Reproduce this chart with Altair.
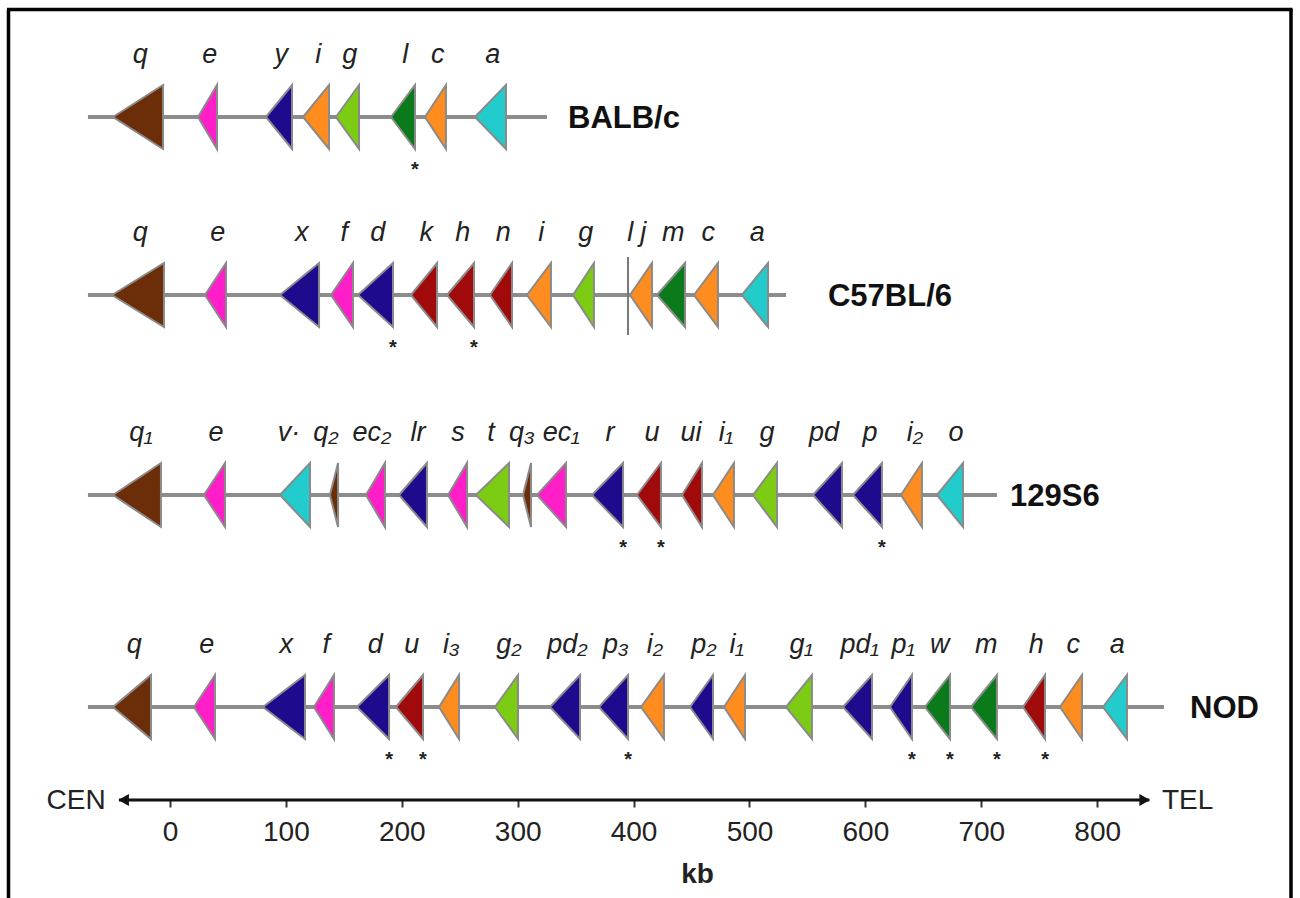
import altair as alt
import pandas as pd

# ---------------- data (kb positions) ----------------
strains = ["BALB/c", "C57BL/6", "129S6", "NOD"]

balb_genes = ["q", "e", "y", "i", "g", "l", "c", "a"]
balb_family = ["brown", "pink", "navy", "orange", "lime", "green", "orange", "cyan"]
balb_tip = [-49.2, 24.2, 82.8, 114.8, 143.2, 190.7, 220.0, 263.2]
balb_edge = [-6.0, 40.6, 105.3, 137.2, 163.1, 211.4, 238.1, 289.9]
balb_star = ["l"]

b6_genes = ["q", "e", "x", "f", "d", "k", "h", "n", "i", "g", "l", "j", "m", "c", "a"]
b6_family = ["brown", "pink", "navy", "pink", "navy", "red", "red", "red", "orange",
             "lime", "line", "orange", "green", "orange", "cyan"]
b6_tip = [-50.0, 30.2, 94.9, 138.9, 162.2, 207.9, 239.0, 276.1, 308.0, 347.7, 395.2,
          396.9, 420.2, 452.1, 493.5]
b6_edge = [-5.2, 48.3, 128.6, 157.9, 192.4, 230.4, 262.3, 295.1, 328.7, 365.8, 395.2,
           415.9, 444.4, 472.8, 516.0]
b6_star = ["d", "h"]

s129_genes = ["q₁", "e", "v·", "q₂", "ec₂", "lr", "s", "t", "q₃", "ec₁", "r", "u", "ui",
              "i₁", "g", "pd", "p", "i₂", "o"]
s129_family = ["brown", "pink", "cyan", "brown", "pink", "navy", "pink", "lime", "brown",
               "pink", "navy", "red", "red", "orange", "lime", "navy", "navy", "orange", "cyan"]
s129_tip = [-49.2, 29.3, 94.9, 138.0, 169.1, 197.6, 239.9, 264.0, 304.6, 316.7, 364.1,
            402.9, 441.8, 468.5, 503.0, 554.8, 589.3, 630.7, 661.8]
s129_edge = [-7.8, 47.5, 120.8, 145.0, 185.5, 221.7, 256.3, 292.5, 311.5, 341.7, 390.9,
             423.6, 459.0, 486.6, 523.7, 579.8, 614.3, 648.8, 684.2]
# label centres (kb) for the crowded 129S6 row
s129_label = [-25.0, 39.7, 102.7, 134.6, 174.3, 214.0, 248.5, 277.0, 303.5, 337.5, 379.6,
              415.9, 449.5, 479.7, 515.1, 564.3, 604.0, 642.8, 678.2]
s129_star = ["r", "u", "p"]

nod_genes = ["q", "e", "x", "f", "d", "u", "i₃", "g₂", "pd₂", "p₃", "i₂", "p₂", "i₁", "g₁",
             "pd₁", "p₁", "w", "m", "h", "c", "a"]
nod_family = ["brown", "pink", "navy", "pink", "navy", "red", "orange", "lime", "navy", "navy",
              "orange", "navy", "orange", "lime", "navy", "navy", "green", "green", "red",
              "orange", "cyan"]
nod_tip = [-49.2, 20.7, 80.2, 124.2, 161.3, 195.0, 232.1, 280.4, 327.9, 370.1, 406.4, 448.7,
           478.0, 531.5, 580.7, 621.2, 651.4, 691.1, 736.0, 767.9, 805.0]
nod_edge = [-16.4, 38.8, 116.5, 141.5, 189.0, 218.3, 249.4, 300.3, 353.8, 395.2, 426.2, 468.5,
            496.1, 553.9, 605.7, 640.2, 673.0, 713.5, 755.0, 786.9, 825.7]
nod_star = ["d", "u", "p₃", "p₁", "w", "m", "h"]

backbone_start = [-70.8, -70.8, -70.8, -70.8]
backbone_end = [325.3, 531.5, 713.5, 857.6]

tick_values = [0, 100, 200, 300, 400, 500, 600, 700, 800]

family_names = ["brown", "pink", "navy", "orange", "lime", "green", "cyan", "red"]
family_colors = ["#6b2e08", "#ff1ec8", "#1e0a8c", "#ff8c1e", "#7dcc14", "#0b7a1b", "#22cccc", "#a00a0a"]

# ---------------- layout (pixels / styles) ----------------
row_y = {"BALB/c": 117, "C57BL/6": 295, "129S6": 495, "NOD": 707}
strain_label_x = {"BALB/c": 343.4, "C57BL/6": 567.7, "129S6": 724.8, "NOD": 880.1}
HALF_H = 32
FONT = "Liberation Sans"

rows = [
    ("BALB/c", balb_genes, balb_family, balb_tip, balb_edge, balb_star, None),
    ("C57BL/6", b6_genes, b6_family, b6_tip, b6_edge, b6_star, None),
    ("129S6", s129_genes, s129_family, s129_tip, s129_edge, s129_star, s129_label),
    ("NOD", nod_genes, nod_family, nod_tip, nod_edge, nod_star, None),
]

tri_recs, lab_recs, star_recs, line_recs = [], [], [], []
for strain, genes, fams, tips, edges, stars, lx in rows:
    yc = row_y[strain]
    for k, (g, f, t, e) in enumerate(zip(genes, fams, tips, edges)):
        uid = f"{strain}-{k}"
        if f == "line":
            line_recs.append({"x": t, "y": yc - 38, "y2": yc + 40})
        else:
            tri_recs.append({"uid": uid, "family": f, "x": t, "ylo": yc, "yhi": yc})
            tri_recs.append({"uid": uid, "family": f, "x": e, "ylo": yc - HALF_H, "yhi": yc + HALF_H})
        xlab = lx[k] if lx is not None else (t + e) / 2 + 2
        lab_recs.append({"label": g, "x": xlab, "y": yc - 54})
        if g in stars:
            star_recs.append({"x": e, "y": yc + 59})

tri_df = pd.DataFrame(tri_recs)
lab_df = pd.DataFrame(lab_recs)
star_df = pd.DataFrame(star_recs)
line_df = pd.DataFrame(line_recs)
bb_df = pd.DataFrame({"strain": strains, "x": backbone_start, "x2": backbone_end,
                      "y": [row_y[s] for s in strains]})
strain_df = pd.DataFrame({"strain": strains, "x": [strain_label_x[s] for s in strains],
                          "y": [row_y[s] + 2 for s in strains]})
axis_df = pd.DataFrame({"x": [-44.0], "x2": [845.0], "y": [800]})
head_df = pd.DataFrame({"x": [-40.0, 841.0], "y": [800, 800], "dir": ["l", "r"]})
cen_df = pd.DataFrame({"x": [-55.5], "y": [801], "t": ["CEN"]})
tel_df = pd.DataFrame({"x": [855.9], "y": [801], "t": ["TEL"]})

xs = alt.Scale(domain=[-146.68, 975.0], nice=False, zero=False)
ys = alt.Scale(domain=[0, 800], reverse=True, nice=False, zero=False)

kb_axis = alt.Axis(
    values=tick_values, domain=False, grid=False, tickSize=7, tickWidth=2,
    tickColor="#333333", labelFont=FONT, labelFontSize=28, labelColor="#222222",
    labelPadding=11, title="kb", titleFont=FONT, titleFontSize=28,
    titleFontWeight="bold", titleColor="#222222", titleX=697, titleY=60,
    titleBaseline="top")

axis_line = alt.Chart(axis_df).mark_rule(color="#111111", strokeWidth=3).encode(
    x=alt.X("x:Q", scale=xs, axis=kb_axis),
    x2="x2:Q",
    y=alt.Y("y:Q", scale=ys, axis=None),
)

backbone = alt.Chart(bb_df).mark_rule(color="#8c8c8c", strokeWidth=4).encode(
    x=alt.X("x:Q", scale=xs, axis=None),
    x2="x2:Q",
    y=alt.Y("y:Q", scale=ys, axis=None),
)

triangles = alt.Chart(tri_df).mark_area(
    stroke="#8a8a8a", strokeWidth=2, interpolate="linear", fillOpacity=1
).encode(
    x=alt.X("x:Q", scale=xs, axis=None),
    y=alt.Y("ylo:Q", scale=ys, axis=None, stack=None),
    y2="yhi:Q",
    fill=alt.Fill("family:N", scale=alt.Scale(domain=family_names, range=family_colors), legend=None),
    detail="uid:N",
)

lrule = alt.Chart(line_df).mark_rule(color="#7a7a7a", strokeWidth=2).encode(
    x=alt.X("x:Q", scale=xs, axis=None),
    y=alt.Y("y:Q", scale=ys, axis=None),
    y2="y2:Q",
)

labels = alt.Chart(lab_df).mark_text(
    font=FONT, fontSize=27, fontStyle="italic", color="#222222", align="center", baseline="alphabetic"
).encode(
    x=alt.X("x:Q", scale=xs, axis=None),
    y=alt.Y("y:Q", scale=ys, axis=None),
    text="label:N",
)

star_marks = alt.Chart(star_df).mark_text(
    font=FONT, fontSize=20, fontWeight="bold", color="#222222", align="center", baseline="alphabetic"
).encode(
    x=alt.X("x:Q", scale=xs, axis=None),
    y=alt.Y("y:Q", scale=ys, axis=None),
    text=alt.value("*"),
)

strain_txt = alt.Chart(strain_df).mark_text(
    font=FONT, fontSize=31, fontWeight="bold", color="#111111", align="left", baseline="middle"
).encode(
    x=alt.X("x:Q", scale=xs, axis=None),
    y=alt.Y("y:Q", scale=ys, axis=None),
    text="strain:N",
)

heads = alt.Chart(head_df).mark_point(filled=True, color="#111111", size=150, opacity=1).encode(
    x=alt.X("x:Q", scale=xs, axis=None),
    y=alt.Y("y:Q", scale=ys, axis=None),
    shape=alt.Shape("dir:N", scale=alt.Scale(domain=["l", "r"], range=["triangle-left", "triangle-right"]),
                    legend=None),
)

cen_txt = alt.Chart(cen_df).mark_text(
    font=FONT, fontSize=28, color="#222222", baseline="middle", align="right"
).encode(
    x=alt.X("x:Q", scale=xs, axis=None),
    y=alt.Y("y:Q", scale=ys, axis=None),
    text="t:N",
)
tel_txt = alt.Chart(tel_df).mark_text(
    font=FONT, fontSize=28, color="#222222", baseline="middle", align="left"
).encode(
    x=alt.X("x:Q", scale=xs, axis=None),
    y=alt.Y("y:Q", scale=ys, axis=None),
    text="t:N",
)

one = pd.DataFrame({"a": [0]})
frame_left = alt.Chart(one).mark_rule(color="#000000", strokeWidth=3.5).encode(
    x=alt.value(8.5), y=alt.value(9), y2=alt.value(898))
frame_right = alt.Chart(one).mark_rule(color="#000000", strokeWidth=3.5).encode(
    x=alt.value(1291), y=alt.value(9), y2=alt.value(898))
frame_top = alt.Chart(one).mark_rule(color="#000000", strokeWidth=3.5).encode(
    x=alt.value(7), x2=alt.value(1292.5), y=alt.value(9.5))

chart = alt.layer(
    axis_line, backbone, triangles, lrule, labels, star_marks, strain_txt,
    heads, cen_txt, tel_txt, frame_left, frame_right, frame_top
).resolve_axis(x="independent", y="independent").properties(
    width=1300, height=800,
    autosize=alt.AutoSizeParams(type="none"),
    padding={"left": 0, "top": 0, "right": 0, "bottom": 98},
    background="white",
).configure_view(stroke=None)

chart.save("out.html", embed_options={"renderer": "svg", "actions": False})
